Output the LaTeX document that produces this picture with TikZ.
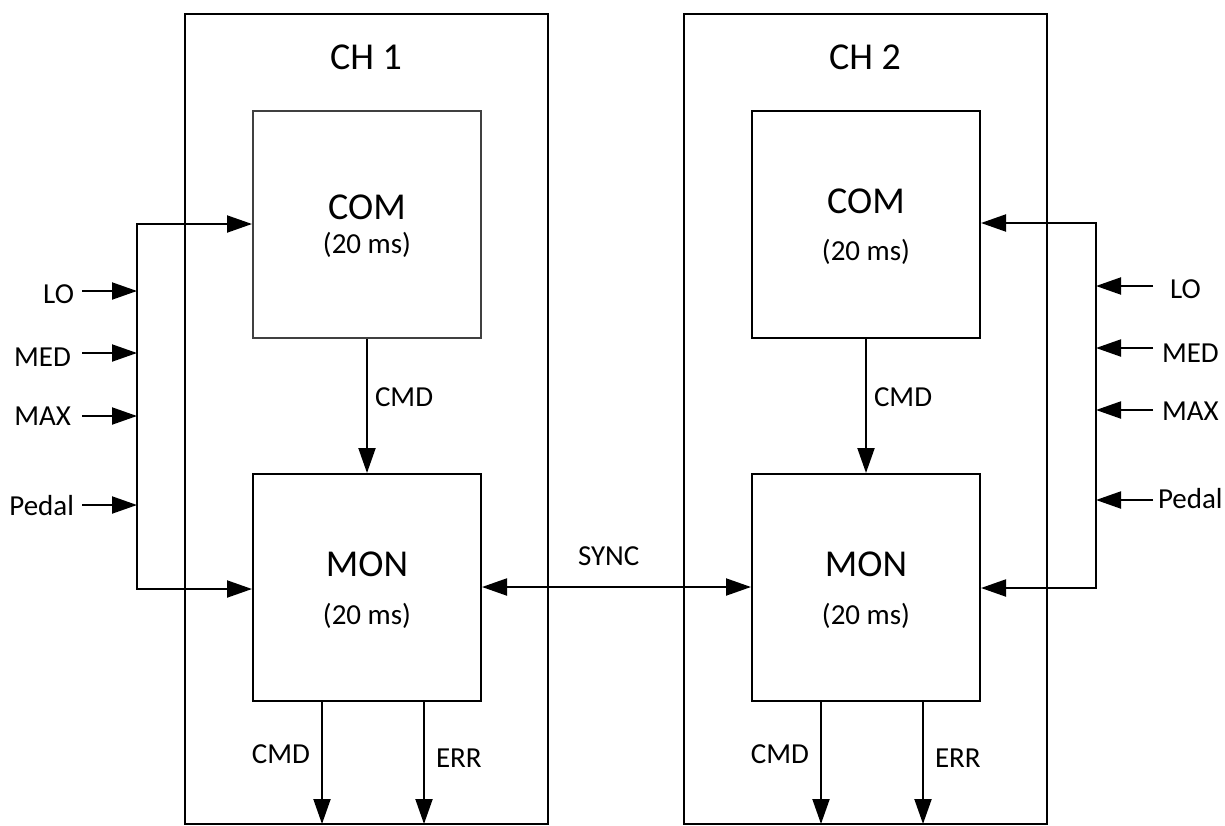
\documentclass[tikz,border=0pt]{standalone}
\usepackage{fontspec}
\setmainfont{Carlito}
\usetikzlibrary{arrows.meta}
\begin{document}
\begin{tikzpicture}[x=1pt,y=-1pt,
  line width=2pt,
  tip/.tip={Triangle[length=25pt,width=17pt]},
  arr/.style={-tip},
  dbl/.style={tip-tip},
  chbox/.style={draw=black,line width=2pt,minimum width=363pt,minimum height=810pt,inner sep=0pt},
  blk/.style={draw=black,line width=2pt,minimum width=228pt,minimum height=227pt,inner sep=0pt,fill=white},
  gblk/.style={blk,draw=black!75},
  ttl/.style={font=\fontsize{38}{44}\selectfont,inner sep=0pt,anchor=base},
  lab/.style={font=\fontsize{29}{34}\selectfont,inner sep=0pt}
]
\useasboundingbox (0,0) rectangle (1225,825);
% channel frames
\node[chbox] (ch1) at (366.5,419) {};
\node[chbox] (ch2) at (865.5,419) {};
\node[ttl] (t1) at (366,69) {CH 1};
\node[ttl] (t2) at (865,69) {CH 2};
% blocks
\node[gblk] (com1) at (367,224.5) {};
\node[blk] (mon1) at (367,587.5) {};
\node[blk] (com2) at (866,224.5) {};
\node[blk] (mon2) at (866,587.5) {};
\node[ttl] (com1t) at (367,219) {COM};
\node[lab,anchor=base] (com1s) at (367,253) {(20 ms)};
\node[ttl] (mon1t) at (367,576) {MON};
\node[lab,anchor=base] (mon1s) at (367,624) {(20 ms)};
\node[ttl] (com2t) at (866,213) {COM};
\node[lab,anchor=base] (com2s) at (866,260) {(20 ms)};
\node[ttl] (mon2t) at (866,576) {MON};
\node[lab,anchor=base] (mon2s) at (866,624) {(20 ms)};
% COM -> MON
\draw[arr] (com1.south) -- (mon1.north);
\draw[arr] (com2.south) -- (mon2.north);
\node[lab,anchor=base west] (cmd1) at (374,406) {CMD};
\node[lab,anchor=base west] (cmd2) at (873,406) {CMD};
% left bus
\coordinate (blt) at (137,224);
\coordinate (blb) at (137,589);
\draw[dbl,line join=miter] (com1.west|-blt) -- (blt) -- (blb) -- (mon1.west|-blb);
\coordinate (iLO) at (82,291);
\coordinate (iMED) at (82,353);
\coordinate (iMAX) at (82,416);
\coordinate (iPed) at (82,505);
\foreach \c in {iLO,iMED,iMAX,iPed} \draw[arr] (\c) -- (blt|-\c);
\node[lab,anchor=base east] (lLO) at (75,303) {LO};
\node[lab,anchor=base east] (lMED) at (72,366) {MED};
\node[lab,anchor=base east] (lMAX) at (72,425) {MAX};
\node[lab,anchor=base east] (lPed) at (75,515) {Pedal};
% right bus
\coordinate (brt) at (1096,223);
\coordinate (brb) at (1096,588);
\draw[dbl,line join=miter] (com2.east|-brt) -- (brt) -- (brb) -- (mon2.east|-brb);
\coordinate (jLO) at (1153,286);
\coordinate (jMED) at (1153,348);
\coordinate (jMAX) at (1153,410);
\coordinate (jPed) at (1153,500);
\foreach \c in {jLO,jMED,jMAX,jPed} \draw[arr] (\c) -- (brt|-\c);
\node[lab,anchor=base west] (rLO) at (1169,298) {LO};
\node[lab,anchor=base west] (rMED) at (1161,362) {MED};
\node[lab,anchor=base west] (rMAX) at (1161,420) {MAX};
\node[lab,anchor=base west] (rPed) at (1157,508) {Pedal};
% SYNC
\coordinate (sy) at (600,587);
\draw[dbl] (mon1.east|-sy) -- (mon2.west|-sy);
\node[lab,anchor=base west] (sync) at (577,565) {SYNC};
% outputs
\coordinate (o1c) at (322,824);
\coordinate (o1e) at (424,824);
\coordinate (o2c) at (821,824);
\coordinate (o2e) at (923,824);
\draw[arr] (mon1.south-|o1c) -- (o1c);
\draw[arr] (mon1.south-|o1e) -- (o1e);
\draw[arr] (mon2.south-|o2c) -- (o2c);
\draw[arr] (mon2.south-|o2e) -- (o2e);
\node[lab,anchor=base east] (oc1) at (311,763) {CMD};
\node[lab,anchor=base west] (oe1) at (435,767) {ERR};
\node[lab,anchor=base east] (oc2) at (810,763) {CMD};
\node[lab,anchor=base west] (oe2) at (934,767) {ERR};
\end{tikzpicture}
\end{document}
